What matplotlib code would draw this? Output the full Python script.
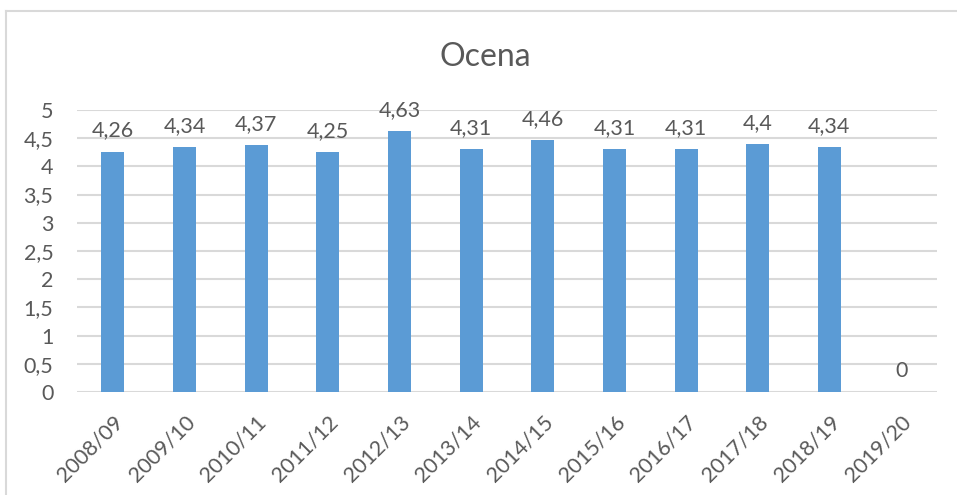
import numpy as np
import matplotlib.pyplot as plt
from matplotlib.lines import Line2D

plt.rcParams['font.family'] = ['Lato', 'DejaVu Sans']

seasons = ['2008/09', '2009/10', '2010/11', '2011/12', '2012/13', '2013/14',
           '2014/15', '2015/16', '2016/17', '2017/18', '2018/19', '2019/20']
ocena = [4.26, 4.34, 4.37, 4.25, 4.63, 4.31, 4.46, 4.31, 4.31, 4.4, 4.34, 0]
yticks = [0, 0.5, 1, 1.5, 2, 2.5, 3, 3.5, 4, 4.5, 5]

txt = '#595959'
bar_col = '#5B9BD5'
grid_col = '#D9D9D9'
fs = 15.5


def comma(v):
    s = ('%g' % v)
    return s.replace('.', ',')


fig = plt.figure(figsize=(9.57, 4.95), dpi=100)
ax = fig.add_axes([0.0805, 0.208, 0.8985, 0.57])

x = np.arange(len(seasons))
ax.bar(x, ocena, width=0.32, color=bar_col, zorder=3)

for xi, v in zip(x, ocena):
    ax.annotate(comma(v), (xi, v), xytext=(0, 8), textcoords='offset points',
                ha='center', va='bottom', fontsize=fs, color=txt)

ax.set_xlim(-0.5, len(seasons) - 0.5)
ax.set_ylim(0, 5)
ax.set_yticks(yticks)
ax.set_yticklabels([comma(t) for t in yticks], fontsize=fs, color=txt)
ax.set_xticks(x)
ax.set_xticklabels(seasons, rotation=45, ha='right', rotation_mode='anchor',
                   fontsize=fs, color=txt)
ax.tick_params(axis='both', length=0)
ax.tick_params(axis='y', pad=17)
ax.tick_params(axis='x', pad=14)
ax.yaxis.grid(True, color=grid_col, linewidth=1.5, zorder=0)
ax.set_axisbelow(True)
for s in ax.spines.values():
    s.set_visible(False)

fig.text(0.507, 0.885, 'Ocena', ha='center', va='center', fontsize=23, color=txt)

# chart border (left and top visible)
bx = 6 / 957
by = 1 - 11 / 495
fig.add_artist(Line2D([bx, bx], [0, by], transform=fig.transFigure, color=grid_col, linewidth=1.5))
fig.add_artist(Line2D([bx, 1], [by, by], transform=fig.transFigure, color=grid_col, linewidth=1.5))

fig.savefig('out.png', dpi=100)
